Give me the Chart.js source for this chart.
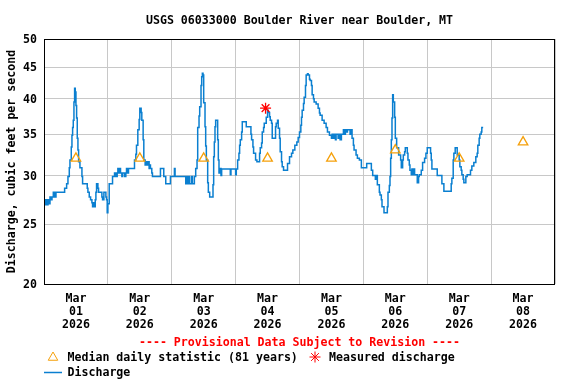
<!DOCTYPE html>
<html><head><meta charset="utf-8">
<script src="https://cdn.jsdelivr.net/npm/chart.js@4/dist/chart.umd.min.js"></script>
<style>html,body{margin:0;padding:0;background:#fff;}#wrap{width:576px;height:384px;}</style>
</head><body><div id="wrap"><canvas id="c" width="576" height="384"></canvas></div>
<script>
// ---- data ----
const monthLabel = 'Mar';
const yearLabel = '2026';
const dayLabels = ['01','02','03','04','05','06','07','08'];
const dayTickHours = [12,36,60,84,108,132,156,180];      // noon of each day (hours since Mar 01 00:00)
const dayBoundaryHours = [0,24,48,72,96,120,144,168,192];
const yTicks = [20,25,30,35,40,45,50];

const dischargeHours = [0,0.25,0.75,1.25,1.5,2,2.25,2.5,3,3.5,3.75,4,4.25,4.5,7.75,8.5,9,9.5,9.75,10.25,10.5,10.75,11,11.25,11.5,11.75,12,12.25,12.5,12.75,13,13.5,14.25,14.5,16.25,16.5,17,17.5,18,18.25,18.75,19,19.25,19.5,19.75,20.25,20.5,21.75,22,22.5,23.25,23.5,23.75,24,24.5,25.75,26.5,27,27.5,27.75,28,28.5,28.75,29.25,29.5,30.25,30.75,31,31.5,31.75,34,34.5,34.75,35.25,35.75,36,36.5,36.75,37.25,37.5,38,38.25,38.75,39,39.5,39.75,40,40.5,40.75,43.75,45,45.75,47.5,49,49.25,53.25,53.5,54,54.5,54.75,55.5,55.75,56.5,57,57.5,57.75,58.25,58.5,59,59.25,59.5,59.75,60,60.5,60.75,61,61.5,61.75,62.25,63.5,63.75,64,64.25,64.5,65.25,65.5,65.75,66,66.5,66.75,70,70.25,72,72.25,72.75,73.25,73.5,73.75,74.25,74.5,76,77.75,78,78.5,78.75,79.5,80,81,81.25,81.75,82,82.5,82.75,83.5,84,84.25,84.75,85,85.5,85.75,87,87.25,87.75,88,88.5,88.75,89.25,89.5,90,91.5,92.25,93,93.5,94.25,95,95.5,96,96.5,96.75,97,97.5,97.75,98.25,98.5,99,99.25,99.75,100,100.5,100.75,101.25,101.5,102.25,103,103.5,103.75,104.5,105.25,106,106.5,107.25,108,108.25,108.75,109,109.5,109.75,110.5,111,111.25,111.75,112.5,112.75,113.25,113.5,114,115,115.5,115.75,116.25,116.5,117.25,117.75,118.5,119.25,121.25,123,123.5,124.5,124.75,125.25,126,126.25,126.75,127,127.75,129,129.25,129.75,130,130.25,130.5,130.75,131,131.25,131.75,132,132.5,133.25,134,134.25,134.75,135,135.5,135.75,136.5,136.75,137.25,137.5,138,138.25,138.75,139,139.25,140.25,140.75,141,141.75,142.25,143,143.5,144,145.25,145.5,145.75,147.75,149.5,150.25,153,153.25,153.75,154,154.5,155.25,156,156.25,156.75,157,157.5,157.75,158.5,159,160.25,160.75,161.5,162.25,162.75,163,163.5,163.75,164.25,164.5,165];
const dischargeCfs = [27.4,26.9,27.4,26.9,27.4,27.0,27.7,27.4,27.7,28.2,27.7,28.2,27.7,28.2,28.6,29.1,29.9,30.9,31.8,33.4,34.9,35.9,36.9,39.5,41.6,41.0,39.0,37.2,34.5,33.0,31.6,30.9,29.9,29.1,28.6,28.2,27.7,27.4,27.1,26.7,27.1,26.7,27.4,28.2,29.1,28.6,28.2,27.7,27.4,28.2,27.7,27.4,26.1,27.0,29.1,29.9,30.3,29.9,30.3,30.8,30.3,30.8,30.3,29.9,30.3,29.9,30.3,30.8,30.3,30.8,31.8,32.5,33.6,35.6,37.0,38.6,38.0,36.9,34.3,31.8,31.2,31.6,31.2,31.6,30.8,31.2,30.8,30.3,29.9,30.8,29.9,29.1,29.9,30.8,29.9,29.1,29.9,29.1,29.9,29.1,29.9,29.1,29.9,30.8,31.8,35.9,37.5,38.8,42.0,43.4,44.0,43.7,39.4,36.0,33.5,31.8,29.2,28.2,27.7,29.0,32.2,34.0,36.0,36.9,34.3,31.8,30.3,30.8,30.0,30.75,30.1,30.75,30.1,30.75,31.8,32.6,33.6,34.3,35.3,36.7,36.0,35.0,34.3,33.4,32.6,31.8,31.6,32.6,33.3,33.9,35.3,35.9,36.5,37.3,38.3,38.0,37.4,36.9,36.5,34.5,36.0,36.5,36.9,35.8,34.5,32.8,31.6,31.0,30.6,31.4,32.2,32.6,33.0,33.6,34.0,34.6,35.3,36.2,37.3,38.3,39.3,40.2,42.0,43.7,43.9,43.7,43.0,42.8,42.0,40.6,40.0,39.5,39.2,38.6,37.9,37.6,36.9,36.5,35.9,35.3,34.9,34.5,35.0,34.5,35.0,34.3,35.0,34.5,35.0,34.3,35.0,35.6,35.0,35.6,35.3,35.6,35.0,35.6,34.5,33.6,33.0,32.4,32.0,31.8,30.9,31.4,30.6,30.0,29.6,30.0,29.0,28.2,27.9,27.4,26.7,26.1,26.7,28.2,28.9,29.9,32.0,34.3,37.2,40.6,39.5,37.3,34.5,33.3,32.4,31.8,30.9,31.8,32.4,32.8,33.3,32.6,31.8,31.2,30.6,30.1,30.75,30.1,30.75,30.1,29.2,29.9,30.1,30.6,31.5,32.0,32.6,33.3,32.6,31.8,30.75,30.0,29.1,28.3,29.1,29.7,31.8,32.6,33.3,32.4,31.8,31.0,30.6,30.1,29.6,29.2,29.9,30.1,30.6,31.1,31.5,32.2,32.6,33.6,34.5,35.0,35.3,35.9,35.9];

const medianHours = [12,36,60,84,108,132,156,180];
const medianCfs = [32.0,32.0,32.0,32.0,32.0,33.0,32.0,34.0];
const measuredHours = [83.25];
const measuredCfs = [38.6];

// ---- style ----
const FAMILY = "'DejaVu Sans Mono','Liberation Mono',monospace";
const FSIZE = 11.6;
const BLUE = '#0a7fd0';
const ORANGE = '#f5a00a';
const RED = '#ff0000';
const GRID = '#c8c8c8';

const zip = (xs, ys) => xs.map((x, i) => ({x: x, y: ys[i]}));

const frameLegend = {
  id: 'frameLegend',
  afterDraw(chart) {
    const ctx = chart.ctx, a = chart.chartArea;
    ctx.save();
    ctx.strokeStyle = '#000';
    ctx.lineWidth = 1;
    ctx.strokeRect(a.left + 0.5, a.top + 0.5, a.right - a.left - 1, a.bottom - a.top);
    // legend
    ctx.font = 'bold ' + FSIZE + 'px ' + FAMILY;
    ctx.textBaseline = 'middle';
    ctx.textAlign = 'left';
    ctx.fillStyle = '#000';
    const y1 = 358, y2 = 373;
    ctx.strokeStyle = ORANGE; ctx.fillStyle = 'rgba(0,0,0,0)';
    Chart.helpers.drawPoint(ctx, {pointStyle: 'triangle', radius: 5.5, borderWidth: 1.3, rotation: 0}, 53, 357.5);
    ctx.fillStyle = '#000';
    ctx.fillText('Median daily statistic (81 years)', 67.5, y1);
    ctx.strokeStyle = RED; ctx.fillStyle = 'rgba(0,0,0,0)';
    Chart.helpers.drawPoint(ctx, {pointStyle: 'star', radius: 5.5, borderWidth: 1.3, rotation: 0}, 315, 357);
    ctx.fillStyle = '#000';
    ctx.fillText('Measured discharge', 329, y1);
    ctx.strokeStyle = BLUE; ctx.lineWidth = 1.5;
    ctx.beginPath(); ctx.moveTo(44, 372.5); ctx.lineTo(62, 372.5); ctx.stroke();
    ctx.fillText('Discharge', 67.5, y2);
    ctx.restore();
  }
};

Chart.defaults.color = '#000';
Chart.defaults.font.family = FAMILY;
Chart.defaults.font.size = FSIZE;
Chart.defaults.font.weight = 'bold';

const fontObj = {family: FAMILY, size: FSIZE, weight: 'bold', lineHeight: '13px'};

new Chart(document.getElementById('c'), {
  type: 'line',
  data: {
    datasets: [
      {label: 'Measured discharge', data: zip(measuredHours, measuredCfs), showLine: false,
       pointStyle: 'star', pointRadius: 5.5, borderColor: RED, backgroundColor: RED, pointBorderWidth: 1.3},
      {label: 'Median daily statistic (81 years)', data: zip(medianHours, medianCfs), showLine: false,
       pointStyle: 'triangle', pointRadius: 5.5, borderColor: ORANGE, backgroundColor: 'rgba(0,0,0,0)', pointBorderWidth: 1.3},
      {label: 'Discharge', data: zip(dischargeHours, dischargeCfs), borderColor: BLUE, borderWidth: 1.5,
       pointRadius: 0, stepped: true, fill: false}
    ]
  },
  options: {
    responsive: false, animation: false, devicePixelRatio: 1,
    layout: {padding: {left: 0, right: 21, top: 0, bottom: 34.5}},
    plugins: {
      legend: {display: false},
      tooltip: {enabled: false},
      title: {display: true, text: 'USGS 06033000 Boulder River near Boulder, MT', fullSize: false,
        font: {family: FAMILY, size: FSIZE, weight: 'bold', lineHeight: '14px'}, color: '#000',
        padding: {top: 14, bottom: 11}},
      subtitle: {display: true, text: '---- Provisional Data Subject to Revision ----', position: 'bottom',
        fullSize: false, color: RED, font: fontObj, padding: {top: 6.5, bottom: 0}}
    },
    scales: {
      x: {type: 'linear', min: 0, max: 192, position: 'bottom',
        afterBuildTicks: s => { s.ticks = dayBoundaryHours.map(v => ({value: v})); },
        afterFit: s => { s.height = 0; },
        ticks: {display: false}, border: {display: false},
        grid: {color: GRID, lineWidth: 1, drawTicks: false}},
      x2: {type: 'linear', min: 0, max: 192, position: 'bottom',
        afterBuildTicks: s => { s.ticks = dayTickHours.map(v => ({value: v})); },
        afterFit: s => { s.height = 46; },
        border: {display: false}, grid: {display: false, drawTicks: false},
        ticks: {autoSkip: false, maxRotation: 0, minRotation: 0, padding: 8.5, font: fontObj, color: '#000',
          callback: v => { const i = dayTickHours.indexOf(v); return i < 0 ? '' : [monthLabel, dayLabels[i], yearLabel]; }}},
      y: {type: 'logarithmic', min: 20, max: 50, position: 'left',
        afterBuildTicks: s => { s.ticks = yTicks.map(v => ({value: v})); },
        afterFit: s => { s.width = 44; },
        border: {display: false},
        grid: {color: GRID, lineWidth: 1, drawTicks: false},
        ticks: {padding: 7, labelOffset: 1, font: fontObj, color: '#000', callback: v => String(v)},
        title: {display: true, text: 'Discharge, cubic feet per second', font: fontObj, color: '#000',
          padding: {top: 5, bottom: 0}}}
    }
  },
  plugins: [frameLegend]
});
</script></body></html>
